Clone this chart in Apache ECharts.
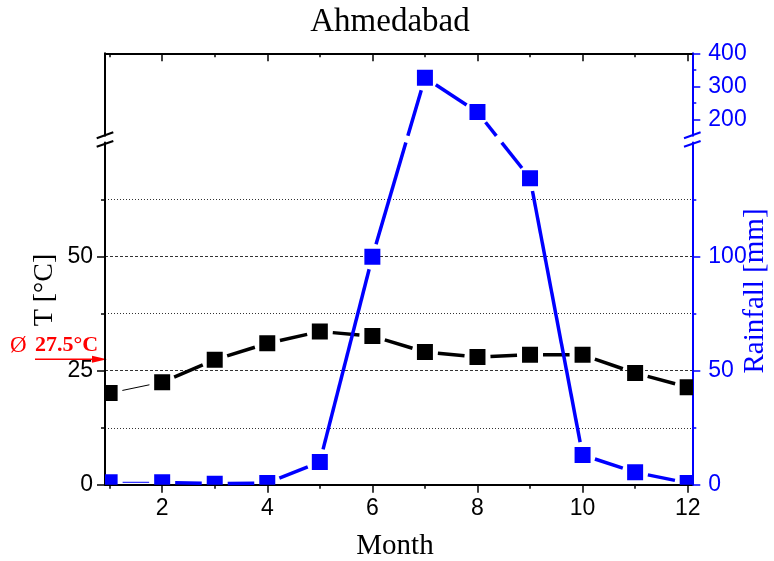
<!DOCTYPE html>
<html><head><meta charset="utf-8">
<script src="https://cdn.jsdelivr.net/npm/echarts@6/dist/echarts.min.js"></script>
<style>html,body{margin:0;padding:0;background:#fff}#c{width:774px;height:561px}</style>
</head><body><div id="c"></div>
<script>
// ---------- data ----------
const title = 'Ahmedabad';
const months = [1, 2, 3, 4, 5, 6, 7, 8, 9, 10, 11, 12];
const temperature = [20.1, 22.5, 27.4, 31.0, 33.6, 32.6, 29.1, 28.0, 28.5, 28.5, 24.5, 21.4];
const rainfall = [1.1, 1.1, 0.5, 0.8, 10.0, 100.0, 326, 222, 134.4, 13.1, 5.5, 0.8];
const tempAverage = 27.5;
const monthTicks = [2, 4, 6, 8, 10, 12];
const monthMinorTicks = [1, 3, 5, 7, 9, 11];
const tempTicks = [0, 25, 50];
const tempMinorTicks = [12.5, 37.5, 62.5];
const rainLowTicks = [0, 50, 100];
const rainLowMinorTicks = [25, 75, 125];
const rainHighTicks = [200, 300, 400];
const rainHighMinorTicks = [250, 350];

// ---------- axis ranges ----------
const xRange = [0.912, 12.088];
const tempRange = [0, 75];
const rainLowRange = [0, 150];
const rainHighRange = [150, 400];

const SANS = 'Liberation Sans';
const SERIF = 'Liberation Serif';
const BLUE = '#0000ff';
const RED = '#ff0000';
const MARK = 16;
const GAP = 13;

const chart = echarts.init(document.getElementById('c'));

function xAx(grid, pos, ticks, len, inside, labels, showLine) {
  return {
    type: 'value', gridIndex: grid, position: pos, min: xRange[0], max: xRange[1],
    axisLine: { show: showLine, onZero: false, lineStyle: { color: '#000', width: 2 } },
    axisTick: { show: true, inside: inside, length: len, customValues: ticks, lineStyle: { color: '#000', width: 1.5 } },
    axisLabel: labels ? { show: true, customValues: ticks, fontFamily: SANS, fontSize: 23, color: '#000', margin: 12 } : { show: false },
    splitLine: { show: false }
  };
}
function yAx(grid, pos, range, ticks, len, color, labels, showLine, margin) {
  return {
    type: 'value', gridIndex: grid, position: pos, min: range[0], max: range[1],
    axisLine: { show: showLine, onZero: false, lineStyle: { color: color, width: 2 } },
    axisTick: ticks ? { show: true, length: len, customValues: ticks, lineStyle: { color: color, width: 1.5 } } : { show: false },
    axisLabel: labels ? { show: true, customValues: ticks, fontFamily: SANS, fontSize: 23, color: color, margin: margin } : { show: false },
    splitLine: { show: false }
  };
}

const xAxis = [
  xAx(0, 'bottom', monthTicks, 8, false, true, true),
  xAx(0, 'bottom', monthMinorTicks, 4, false, false, false),
  xAx(1, 'top', monthTicks, 8, true, false, true),
  xAx(1, 'top', monthMinorTicks, 4, true, false, false)
];
const yAxis = [
  yAx(0, 'left', tempRange, tempTicks, 8, '#000', true, true, 12),            // 0
  yAx(0, 'left', tempRange, tempMinorTicks, 4, '#000', false, false),         // 1
  yAx(0, 'right', rainLowRange, rainLowTicks, 8, BLUE, true, true, 16),       // 2
  yAx(0, 'right', rainLowRange, rainLowMinorTicks, 4, BLUE, false, false),    // 3
  { // 4: grid lines
    type: 'value', gridIndex: 0, position: 'left', min: tempRange[0], max: tempRange[1], interval: 25,
    axisLine: { show: false }, axisTick: { show: false }, axisLabel: { show: false },
    splitLine: { show: true, showMinLine: false, showMaxLine: false, lineStyle: { color: '#333', width: 1, type: [3, 2] } },
    minorTick: { show: false, splitNumber: 2 },
    minorSplitLine: { show: true, lineStyle: { color: '#333', width: 1, type: [1, 2] } }
  },
  yAx(1, 'left', [0, 1], null, 0, '#000', false, true),                       // 5
  yAx(1, 'right', rainHighRange, rainHighTicks, 8, BLUE, true, true, 16),     // 6
  yAx(1, 'right', rainHighRange, rainHighMinorTicks, 4, BLUE, false, false)   // 7
];

function lineRenderer(getPoint, color, band) {
  return function (params, api) {
    const i = params.dataIndex;
    if (i >= months.length - 1) return null;
    const p = getPoint(i, api), q = getPoint(i + 1, api);
    const dx = q[0] - p[0], dy = q[1] - p[1], len = Math.hypot(dx, dy);
    if (len <= 2 * GAP) return null;
    const ux = dx / len, uy = dy / len;
    const a = [p[0] + ux * GAP, p[1] + uy * GAP], b = [q[0] - ux * GAP, q[1] - uy * GAP];
    let intervals = [[0, 1]];
    if (band) {
      const g = band(api);
      const ddy = b[1] - a[1];
      intervals = [];
      if (Math.abs(ddy) < 1e-9) {
        if (a[1] >= g[1] || a[1] <= g[0]) intervals.push([0, 1]);
      } else {
        const tb = (g[1] - a[1]) / ddy, tt = (g[0] - a[1]) / ddy;
        const low = ddy > 0 ? [Math.max(0, tb), 1] : [0, Math.min(1, tb)];
        const up = ddy > 0 ? [0, Math.min(1, tt)] : [Math.max(0, tt), 1];
        if (low[1] > low[0]) intervals.push(low);
        if (up[1] > up[0]) intervals.push(up);
      }
    }
    const lw = i === 0 ? 1 : 3.5;
    return {
      type: 'group',
      children: intervals.map(function (t) {
        return {
          type: 'line',
          shape: { x1: a[0] + (b[0] - a[0]) * t[0], y1: a[1] + (b[1] - a[1]) * t[0],
                   x2: a[0] + (b[0] - a[0]) * t[1], y2: a[1] + (b[1] - a[1]) * t[1] },
          style: { stroke: color, lineWidth: lw, lineCap: 'butt', fill: null }
        };
      })
    };
  };
}
function markerRenderer(color) {
  return function (params, api) {
    const c = api.coord([api.value(0), api.value(1)]);
    const cs = params.coordSys;
    if (c[0] < cs.x - 0.5 || c[0] > cs.x + cs.width + 0.5 || c[1] < cs.y - 0.5 || c[1] > cs.y + cs.height + 0.5) return null;
    return { type: 'rect', shape: { x: c[0] - MARK / 2, y: c[1] - MARK / 2, width: MARK, height: MARK }, style: { fill: color } };
  };
}

const tempData = months.map(function (m, i) { return [m, temperature[i]]; });
const rainData = months.map(function (m, i) { return [m, rainfall[i]]; });

function tempPoint(i, api) { return api.coord([months[i], temperature[i]]); }
function rainPoint(i, api) {
  if (rainfall[i] <= rainLowRange[1]) return api.coord([months[i], rainfall[i]]);
  return chart.convertToPixel({ xAxisIndex: 2, yAxisIndex: 6 }, [months[i], rainfall[i]]);
}
function rainBand(api) {
  return [chart.convertToPixel({ yAxisIndex: 6 }, rainHighRange[0]), api.coord([months[0], rainLowRange[1]])[1]];
}

const option = {
  animation: false,
  backgroundColor: '#fff',
  grid: [
    { left: 105, right: 81.7, top: 142.6, bottom: 76.2 },
    { left: 105, right: 81.7, top: 53.3, bottom: 425.2 }
  ],
  xAxis: xAxis,
  yAxis: yAxis,
  series: [
    { type: 'custom', xAxisIndex: 0, yAxisIndex: 0, data: tempData, z: 2, renderItem: lineRenderer(tempPoint, '#000', null) },
    { type: 'custom', xAxisIndex: 0, yAxisIndex: 2, data: rainData, z: 2, renderItem: lineRenderer(rainPoint, BLUE, rainBand) },
    { type: 'custom', xAxisIndex: 0, yAxisIndex: 0, data: tempData, z: 3, clip: true, renderItem: markerRenderer('#000') },
    { type: 'custom', xAxisIndex: 0, yAxisIndex: 2, data: rainData, z: 4, clip: true, renderItem: markerRenderer(BLUE) },
    { type: 'custom', xAxisIndex: 2, yAxisIndex: 6, data: rainData, z: 4, clip: true, renderItem: markerRenderer(BLUE) }
  ]
};
chart.setOption(option);

// ---------- annotations / axis breaks ----------
const axL = chart.convertToPixel({ xAxisIndex: 0 }, xRange[0]);
const axR = chart.convertToPixel({ xAxisIndex: 0 }, xRange[1]);
const gapTop = chart.convertToPixel({ yAxisIndex: 6 }, rainHighRange[0]);
const gapBot = chart.convertToPixel({ yAxisIndex: 0 }, tempRange[1]);
const avgY = chart.convertToPixel({ yAxisIndex: 0 }, tempAverage);

function slashes(x, color) {
  return [
    { type: 'line', shape: { x1: x - 8.3, y1: gapTop + 2.5, x2: x + 8.3, y2: gapTop - 3.5 }, style: { stroke: color, lineWidth: 2 }, z: 100 },
    { type: 'line', shape: { x1: x - 8.3, y1: gapBot + 4.1, x2: x + 8.3, y2: gapBot - 1.6 }, style: { stroke: color, lineWidth: 2 }, z: 100 }
  ];
}

chart.setOption({
  graphic: [
    { type: 'text', x: 390, y: 22.5, style: { text: title, font: '33px "' + SERIF + '"', fill: '#000', align: 'center', verticalAlign: 'middle' } },
    { type: 'text', x: 395, y: 546, style: { text: 'Month', font: '29px "' + SERIF + '"', fill: '#000', align: 'center', verticalAlign: 'middle' } },
    { type: 'text', x: 45, y: 290, rotation: Math.PI / 2, style: { text: 'T [°C]', font: '28px "' + SERIF + '"', fill: '#000', align: 'center', verticalAlign: 'middle' } },
    { type: 'text', x: 755, y: 291, rotation: Math.PI / 2, style: { text: 'Rainfall [mm]', font: '29px "' + SERIF + '"', fill: BLUE, align: 'center', verticalAlign: 'middle' } },
    { type: 'text', x: 10, y: 345.6, style: {
        text: '{a|Ø}{b|' + tempAverage.toFixed(1) + '°C}', align: 'left', verticalAlign: 'middle',
        rich: { a: { fontFamily: SERIF, fontSize: 23, fill: RED, color: RED, width: 25 }, b: { fontFamily: SERIF, fontSize: 22, fontWeight: 'bold', fill: RED, color: RED } }
      } },
    { type: 'line', shape: { x1: 35, y1: avgY, x2: 95, y2: avgY }, style: { stroke: RED, lineWidth: 1.5 } },
    { type: 'polygon', shape: { points: [[92, avgY - 3.5], [axL + 2, avgY], [92, avgY + 3.5]] }, style: { fill: RED } }
  ].concat(slashes(axL, '#000')).concat(slashes(axR, BLUE))
});
</script>
</body></html>
